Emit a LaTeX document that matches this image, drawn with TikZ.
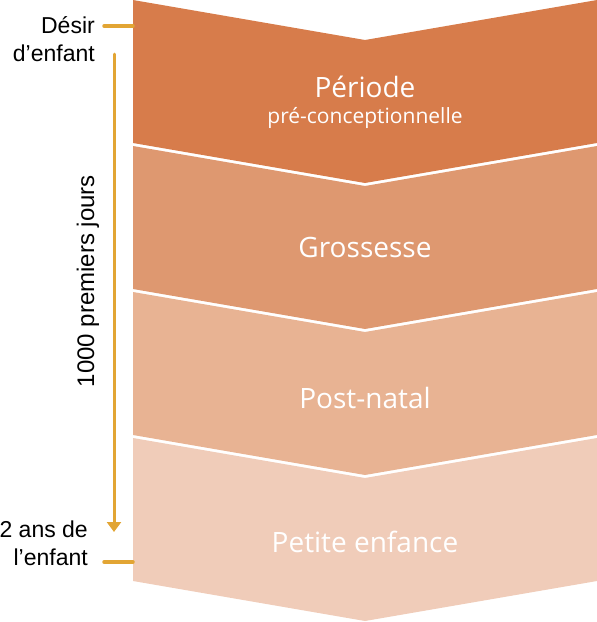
\documentclass[tikz,border=0pt]{standalone}
\usepackage{fontspec}
\setmainfont{Liberation Sans}
\newfontfamily\phasefont{Open Sans}
\usetikzlibrary{arrows.meta,calc,positioning}
\definecolor{ph1}{RGB}{215,124,75}
\definecolor{ph2}{RGB}{222,152,112}
\definecolor{ph3}{RGB}{232,179,147}
\definecolor{ph4}{RGB}{240,204,185}
\definecolor{gold}{RGB}{226,165,52}
\tikzstyle{lbl}=[font=\fontsize{23}{27.5}\selectfont,align=right,inner sep=0pt,anchor=base east]
\tikzstyle{ttl}=[font=\phasefont\fontsize{28}{32}\selectfont,text=white,inner sep=0pt,anchor=base]
\tikzstyle{sub}=[font=\phasefont\fontsize{21}{24}\selectfont,text=white,inner sep=0pt,anchor=base]
\tikzstyle{tick}=[draw=gold,line width=3.5pt,line cap=round]
\def\chevron#1#2{\fill[#2] (133,#1) -- (365,#1+40) -- (597,#1) -- (597,#1+143) -- (365,#1+183) -- (133,#1+143) -- cycle;}

\begin{document}
\begin{tikzpicture}[x=1pt,y=-1pt]
    \useasboundingbox (0,0) rectangle (597,622);
    % the four periods
    \chevron{0}{ph1}
    \chevron{146}{ph2}
    \chevron{292}{ph3}
    \chevron{438}{ph4}
    \node (pre) [ttl] at (365,97) {Période};
    \node (prec) [sub] at (365,123) {pré-conceptionnelle};
    \node (gro) [ttl] at (365,257) {Grossesse};
    \node (post) [ttl] at (365,408) {Post-natal};
    \node (pet) [ttl] at (365,552) {Petite enfance};

    % time line on the left
    \node (desir) [lbl] at (95,61) {Désir\\d’enfant};
    \node (deux) [lbl] at (88,565) {2 ans de\\l’enfant};
    \node (mille) [font=\fontsize{24}{27}\selectfont,inner sep=0pt,anchor=base,rotate=90] at (94,281) {1000 premiers jours};
    \coordinate (c1) at (133,26);
    \coordinate (c1l) at (104,26);
    \coordinate (c4) at (133,562);
    \coordinate (c4l) at (104,562);
    \coordinate (ta) at (114,54);
    \coordinate (tb) at (114,532);
    \draw[tick] (c1l) -- (c1);
    \draw[tick] (c4l) -- (c4);
    \draw[tick,line width=3pt,-{Triangle[width=14pt,length=10pt]}] (ta) -- (tb);
\end{tikzpicture}
\end{document}
